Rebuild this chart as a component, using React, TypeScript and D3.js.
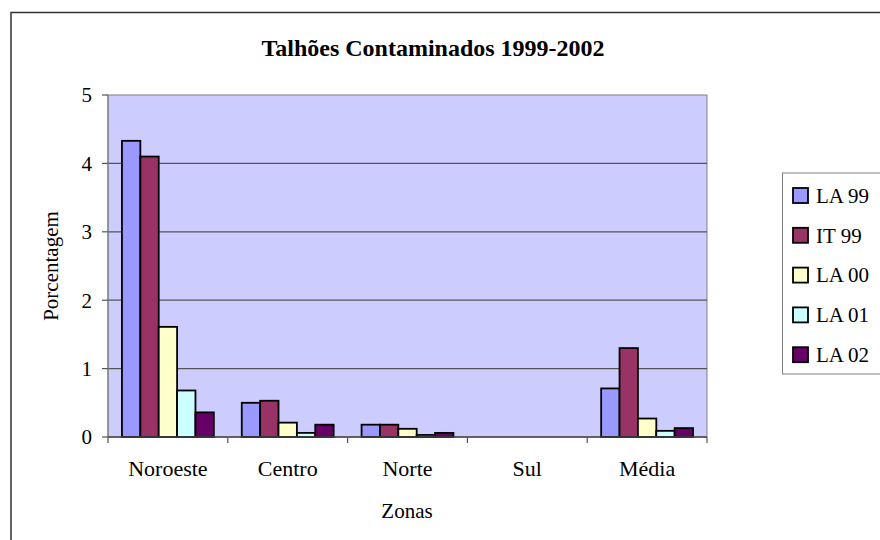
import React from 'react';
import * as d3 from 'd3';

const categories = ['Noroeste', 'Centro', 'Norte', 'Sul', 'Média'];
const seriesNames = ['LA 99', 'IT 99', 'LA 00', 'LA 01', 'LA 02'];
const seriesColors = ['#9999FF', '#993366', '#FFFFCC', '#CCFFFF', '#660066'];
const la99 = [4.33, 0.5, 0.18, 0, 0.71];
const it99 = [4.1, 0.53, 0.18, 0, 1.3];
const la00 = [1.61, 0.21, 0.12, 0, 0.27];
const la01 = [0.68, 0.06, 0.03, 0, 0.09];
const la02 = [0.36, 0.18, 0.06, 0, 0.13];
const yTicks = [0, 1, 2, 3, 4, 5];

const values = [la99, it99, la00, la01, la02];

const W = 880;
const H = 540;
const plot = { left: 108, right: 707, top: 95, bottom: 437 };
const font = '"Liberation Serif", "Times New Roman", Times, serif';

const App: React.FC = () => {
  const x = d3.scaleBand<string>()
    .domain(categories)
    .range([plot.left, plot.right])
    .paddingInner(0)
    .paddingOuter(0);

  const inner = d3.scaleBand<string>()
    .domain(seriesNames)
    .range([0, x.bandwidth()])
    .paddingInner(0)
    .paddingOuter(0.76);

  const y = d3.scaleLinear().domain([0, 5]).range([plot.bottom, plot.top]);

  const legendTop = 173;
  const legendStep = 39.8;

  return (
    <svg
      width={W}
      height={H}
      style={{ position: 'absolute', left: 0, top: 0, background: '#fff', fontFamily: font }}
    >
      {/* outer frame, cut by the page edge */}
      <rect x={11} y={12.5} width={W + 20} height={H + 20} fill="#fff" stroke="#333" strokeWidth={1.5} />

      <text x={433} y={56} textAnchor="middle" fontSize={24} fontWeight="bold" fill="#000">
        Talhões Contaminados 1999-2002
      </text>

      {/* plot area */}
      <rect
        x={plot.left}
        y={plot.top}
        width={plot.right - plot.left}
        height={plot.bottom - plot.top}
        fill="#CCCCFF"
        stroke="#808080"
        strokeWidth={1}
      />

      {/* grid lines */}
      {yTicks.filter(t => t > 0 && t < 5).map(t => (
        <line key={t} x1={plot.left} x2={plot.right} y1={y(t)} y2={y(t)} stroke="#555" strokeWidth={1.3} />
      ))}

      {/* bars */}
      {categories.map((c, ci) => (
        <g key={c} transform={`translate(${x(c)},0)`}>
          {seriesNames.map((s, si) => {
            const v = values[si][ci];
            if (v <= 0) return null;
            return (
              <rect
                key={s}
                x={inner(s)}
                y={y(v)}
                width={inner.bandwidth()}
                height={plot.bottom - y(v)}
                fill={seriesColors[si]}
                stroke="#000"
                strokeWidth={1.8}
              />
            );
          })}
        </g>
      ))}

      {/* y axis */}
      <line x1={plot.left} x2={plot.left} y1={plot.top} y2={plot.bottom} stroke="#808080" strokeWidth={1.2} />
      {yTicks.map(t => (
        <g key={t}>
          <line x1={plot.left - 6} x2={plot.left} y1={y(t)} y2={y(t)} stroke="#555" strokeWidth={1.2} />
          <text x={92} y={y(t)} dy="0.35em" textAnchor="end" fontSize={21} fill="#000">{t}</text>
        </g>
      ))}

      {/* x axis */}
      <line x1={plot.left} x2={plot.right} y1={plot.bottom} y2={plot.bottom} stroke="#444" strokeWidth={1.3} />
      {categories.concat(['end']).map((c, i) => {
        const px = plot.left + i * x.step();
        return <line key={c} x1={px} x2={px} y1={plot.bottom} y2={plot.bottom + 6} stroke="#555" strokeWidth={1.2} />;
      })}
      {categories.map(c => (
        <text key={c} x={(x(c) || 0) + x.bandwidth() / 2} y={476} textAnchor="middle" fontSize={22} fill="#000">
          {c}
        </text>
      ))}

      <text x={407} y={518} textAnchor="middle" fontSize={21} fill="#000">Zonas</text>
      <text
        transform={`translate(58, ${(plot.top + plot.bottom) / 2}) rotate(-90)`}
        textAnchor="middle"
        fontSize={21}
        fill="#000"
      >
        Porcentagem
      </text>

      {/* legend */}
      <rect x={782.5} y={legendTop} width={120} height={201} fill="#fff" stroke="#808080" strokeWidth={1} />
      {seriesNames.map((s, i) => {
        const cy = legendTop + 22.5 + i * legendStep;
        return (
          <g key={s}>
            <rect x={793} y={cy - 7.5} width={15} height={15} fill={seriesColors[i]} stroke="#000" strokeWidth={1.8} />
            <text x={816} y={cy} dy="0.35em" fontSize={21} fill="#000">{s}</text>
          </g>
        );
      })}
    </svg>
  );
};

export default App;
